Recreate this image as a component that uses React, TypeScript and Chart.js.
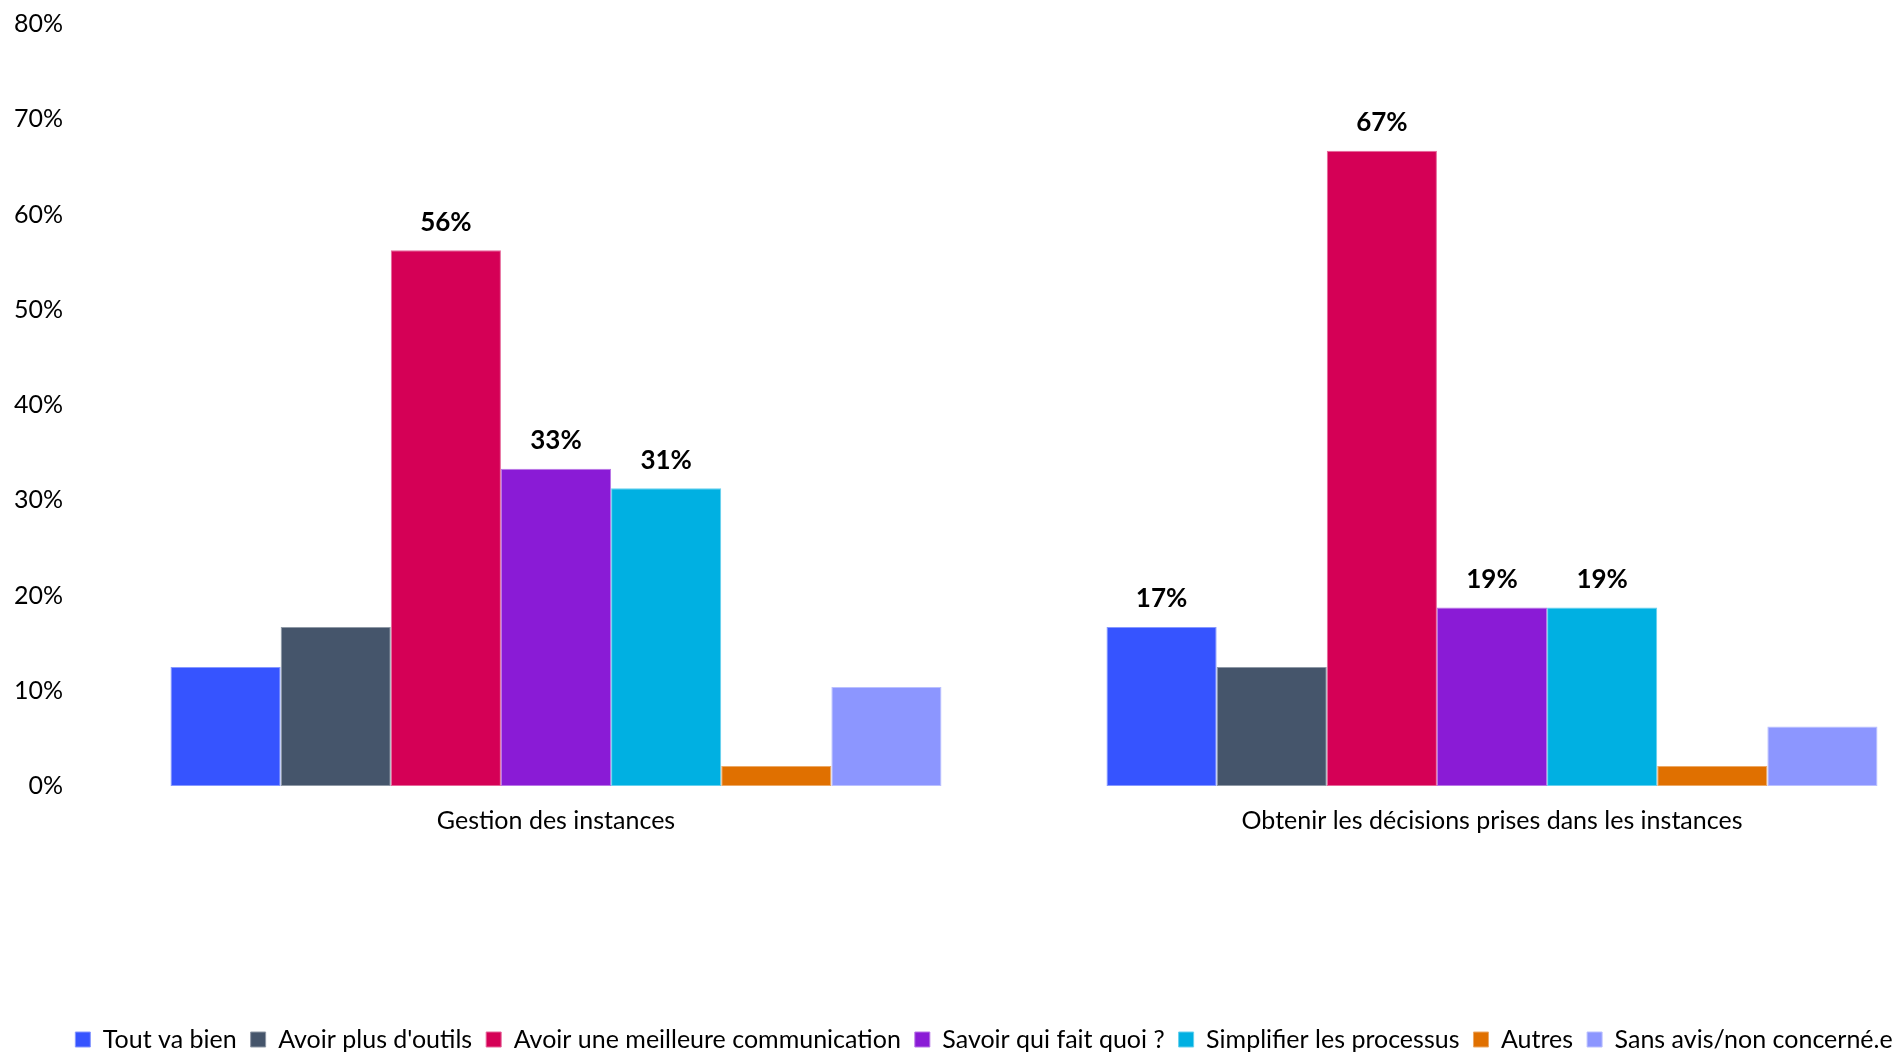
import React, { useEffect, useRef } from "react";
import { Chart, registerables } from "chart.js";

Chart.register(...registerables);

const categories = ["Gestion des instances", "Obtenir les décisions prises dans les instances"];

const seriesNames = [
  "Tout va bien",
  "Avoir plus d'outils",
  "Avoir une meilleure communication",
  "Savoir qui fait quoi ?",
  "Simplifier les processus",
  "Autres",
  "Sans avis/non concerné.e",
];

const toutVaBien = [12.5, 16.7];
const avoirPlusOutils = [16.7, 12.5];
const meilleureCommunication = [56.25, 66.7];
const savoirQuiFaitQuoi = [33.3, 18.75];
const simplifierProcessus = [31.25, 18.75];
const autres = [2.1, 2.1];
const sansAvis = [10.4, 6.25];

const showToutVaBien = [false, true];
const showAvoirPlusOutils = [false, false];
const showMeilleureCommunication = [true, true];
const showSavoirQuiFaitQuoi = [true, true];
const showSimplifierProcessus = [true, true];
const showAutres = [false, false];
const showSansAvis = [false, false];

const yMin = 0;
const yMax = 80;
const yStep = 10;

const seriesValues = [toutVaBien, avoirPlusOutils, meilleureCommunication, savoirQuiFaitQuoi, simplifierProcessus, autres, sansAvis];
const seriesShow = [showToutVaBien, showAvoirPlusOutils, showMeilleureCommunication, showSavoirQuiFaitQuoi, showSimplifierProcessus, showAutres, showSansAvis];
const seriesColors = ["#3654FF", "#45556B", "#D50056", "#8A1BD6", "#00B0E2", "#E07000", "#8C96FF"];

const FONT = "Lato, 'Open Sans', sans-serif";

function tint(hex: string, amt: number): string {
  const n = parseInt(hex.slice(1), 16);
  const r = (n >> 16) & 255, g = (n >> 8) & 255, b = n & 255;
  const m = (c: number) => Math.round(c + (255 - c) * amt);
  return `rgb(${m(r)},${m(g)},${m(b)})`;
}

const valueLabels = {
  id: "valueLabels",
  afterDatasetsDraw(chart: any) {
    const ctx = chart.ctx;
    chart.data.datasets.forEach((ds: any, i: number) => {
      const meta = chart.getDatasetMeta(i);
      meta.data.forEach((bar: any, j: number) => {
        if (!seriesShow[i][j]) return;
        ctx.save();
        ctx.font = `bold 26px ${FONT}`;
        ctx.fillStyle = "#000";
        ctx.textAlign = "center";
        ctx.textBaseline = "middle";
        ctx.fillText(Math.round(ds.data[j]) + "%", bar.x, bar.y - 28);
        ctx.restore();
      });
    });
  },
};

export default function App() {
  const ref = useRef<HTMLCanvasElement | null>(null);
  useEffect(() => {
    document.body.style.overflow = "hidden";
    const chart = new Chart(ref.current as HTMLCanvasElement, {
      type: "bar",
      data: {
        labels: categories,
        datasets: seriesNames.map((name, i) => ({
          label: name,
          data: seriesValues[i],
          backgroundColor: seriesColors[i],
          borderColor: tint(seriesColors[i], 0.4),
          borderWidth: 1,
          borderSkipped: false,
          categoryPercentage: 0.8237,
          barPercentage: 1,
        })),
      },
      options: {
        animation: false,
        responsive: true,
        maintainAspectRatio: false,
        layout: { padding: { left: 0, right: 9, top: 0, bottom: 0 } },
        plugins: {
          tooltip: { enabled: false },
          legend: {
            position: "bottom",
            labels: {
              boxWidth: 15,
              boxHeight: 15,
              padding: 14,
              color: "#000",
              font: { family: FONT, size: 25 },
            },
          },
        },
        scales: {
          x: {
            grid: { display: false, drawTicks: false },
            border: { display: false },
            ticks: { color: "#000", font: { family: FONT, size: 25 }, padding: 20 },
            afterFit: (axis: any) => {
              axis.height = 227;
            },
          },
          y: {
            min: yMin,
            max: yMax,
            grid: { display: false, drawTicks: false },
            border: { display: false },
            ticks: {
              stepSize: yStep,
              color: "#000",
              font: { family: FONT, size: 25 },
              padding: 25,
              callback: (v: any) => v + "%",
            },
            afterFit: (axis: any) => {
              axis.width = 80;
            },
          },
        },
      },
      plugins: [valueLabels],
    });
    return () => chart.destroy();
  }, []);
  return (
    <div style={{ width: 1961, height: 1078, marginTop: -24, position: "relative" }}>
      <canvas ref={ref} />
    </div>
  );
}
